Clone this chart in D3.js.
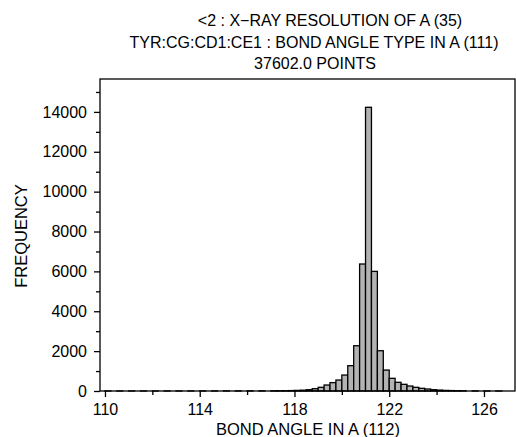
<!DOCTYPE html>
<html><head><meta charset="utf-8">
<script src="https://cdn.jsdelivr.net/npm/d3@7"></script>
<style>body{margin:0;background:#fff}svg{display:block}text{font-family:"Liberation Sans",Arial,sans-serif;fill:#000}</style>
</head><body><svg id="c" width="516" height="437"></svg>
<script>
const titleLines = ["<2 : X\u2212RAY RESOLUTION OF A (35)", "TYR:CG:CD1:CE1 : BOND ANGLE TYPE IN A (111)", "37602.0 POINTS"];
const xLabel = "BOND ANGLE IN A (112)";
const yLabel = "FREQUENCY";
const binWidth = 0.25;
const binLow = [110.0,110.5,111.0,111.5,112.0,112.5,113.0,113.5,114.0,114.5,115.0,115.5,116.0,116.5,117.0,117.25,117.5,117.75,118.0,118.25,118.5,118.75,119.0,119.25,119.5,119.75,120.0,120.25,120.5,120.75,121.0,121.25,121.5,121.75,122.0,122.25,122.5,122.75,123.0,123.25,123.5,123.75,124.0,124.25,124.5,124.75,125.0,125.5,126.0,126.5];
const counts = [3,2,3,2,3,4,3,4,5,5,6,7,8,9,10,12,16,22,30,40,65,115,185,300,420,550,800,1270,2270,6370,14230,6000,2020,1050,635,435,335,250,185,135,100,65,45,30,22,15,10,6,4,2];
const xTicks = [110,114,118,122,126];
const xMinor = [112,116,120,124];
const yTicks = [0,2000,4000,6000,8000,10000,12000,14000];
const yMinor = [1000,3000,5000,7000,9000,11000,13000,15000];

const svg = d3.select("#c");
const L=100, R=515, T=79, B=391;
const x = d3.scaleLinear().domain([109.79,127.31]).range([L,R]);
const y = d3.scaleLinear().domain([0,15650]).range([B,T]);

const bins = binLow.map((b,i)=>({b, c:counts[i]}));
svg.append("g").selectAll("rect").data(bins).join("rect")
  .attr("x", d=>x(d.b)).attr("width", d=>x(d.b+binWidth)-x(d.b))
  .attr("y", d=>y(d.c)).attr("height", d=>y(0)-y(d.c))
  .attr("fill","#b3b3b3").attr("stroke","#000").attr("stroke-width",1.3);

svg.append("rect").attr("x",L).attr("y",T).attr("width",R-L).attr("height",B-T)
  .attr("fill","none").attr("stroke","#000").attr("stroke-width",1.3);

const xAxis = d3.axisBottom(x).tickValues(xTicks).tickSize(6).tickFormat(d3.format("d"));
const gx = svg.append("g").attr("transform",`translate(0,${B})`).call(xAxis);
gx.select(".domain").remove();
gx.selectAll("line").attr("stroke-width",1.3);
gx.selectAll("text").attr("font-size",16).attr("dy",null).attr("y",24).style("font-family",'"Liberation Sans",Arial,sans-serif');
const gxm = svg.append("g").attr("transform",`translate(0,${B})`).call(d3.axisBottom(x).tickValues(xMinor).tickSize(4).tickFormat(""));
gxm.select(".domain").remove(); gxm.selectAll("line").attr("stroke-width",1.3);

const yAxis = d3.axisLeft(y).tickValues(yTicks).tickSize(6).tickPadding(7).tickFormat(d3.format("d"));
const gy = svg.append("g").attr("transform",`translate(${L},0)`).call(yAxis);
gy.select(".domain").remove();
gy.selectAll("line").attr("stroke-width",1.3);
gy.selectAll("text").attr("font-size",16).style("font-family",'"Liberation Sans",Arial,sans-serif');
const gym = svg.append("g").attr("transform",`translate(${L},0)`).call(d3.axisLeft(y).tickValues(yMinor).tickSize(4).tickFormat(""));
gym.select(".domain").remove(); gym.selectAll("line").attr("stroke-width",1.3);

const tl = [[330,26],[314,48],[315,69]];
titleLines.forEach((t,i)=>svg.append("text").attr("x",tl[i][0]).attr("y",tl[i][1]).attr("text-anchor","middle").attr("font-size",16).text(t));
svg.append("text").attr("x",308).attr("y",435).attr("text-anchor","middle").attr("font-size",16.5).text(xLabel);
svg.append("text").attr("transform","translate(27,236) rotate(-90)").attr("text-anchor","middle").attr("font-size",16.5).text(yLabel);
</script></body></html>
